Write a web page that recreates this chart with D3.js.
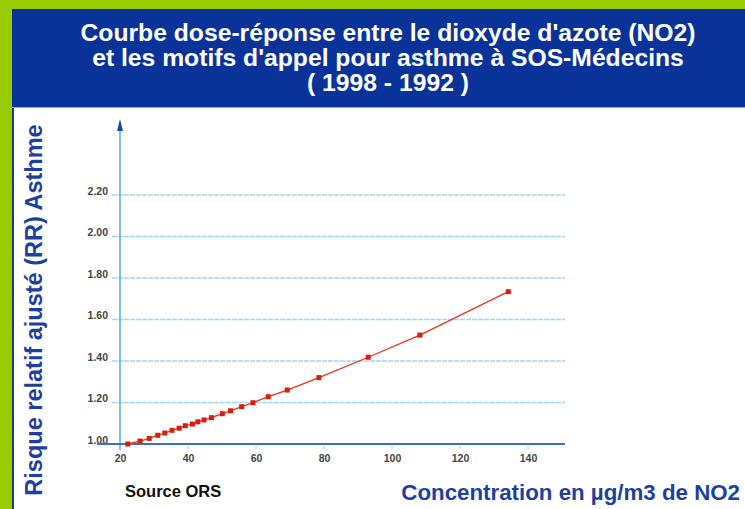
<!DOCTYPE html>
<html>
<head>
<meta charset="utf-8">
<script src="https://cdn.jsdelivr.net/npm/d3@7"></script>
<style>
  body { margin: 0; padding: 0; background: #fff; }
  svg { display: block; }
</style>
</head>
<body>
<div id="chart"></div>
<script>
// données
var titleLines = ["Courbe dose-réponse entre le dioxyde d'azote (NO2)",
                  "et les motifs d'appel pour asthme à SOS-Médecins",
                  "( 1998 - 1992 )"];
var no2 = [22.3, 25.9, 28.6, 31.1, 33.2, 35.3, 37.4, 39.2, 41.3, 42.9, 44.7,
           46.9, 50.1, 52.5, 55.8, 59.1, 63.6, 69.2, 78.5, 93.0, 108.2, 134.2];
var rr  = [1.000, 1.014, 1.027, 1.042, 1.053, 1.066, 1.076, 1.088, 1.096, 1.107, 1.116,
           1.127, 1.146, 1.160, 1.180, 1.199, 1.228, 1.260, 1.320, 1.418, 1.525, 1.734];
var xTicks = [20, 40, 60, 80, 100, 120, 140];
var yTicks = [1.00, 1.20, 1.40, 1.60, 1.80, 2.00, 2.20];

var W = 745, H = 509;
var font = "Liberation Sans, Arial, sans-serif";
var svg = d3.select("#chart").append("svg")
    .attr("width", W).attr("height", H);

// cadre vert + bandeau bleu
svg.append("rect").attr("width", W).attr("height", H).attr("fill", "#99cc00");
svg.append("rect").attr("x", 12).attr("y", 9).attr("width", W - 12).attr("height", 98)
    .attr("fill", "#0a3399");
svg.append("rect").attr("x", 12).attr("y", 107).attr("width", W - 12).attr("height", H - 107)
    .attr("fill", "#ffffff");
svg.append("line").attr("x1", 13).attr("x2", 13).attr("y1", 107).attr("y2", H)
    .attr("stroke", "#1a3a8c").attr("stroke-width", 2);
svg.append("line").attr("x1", 12).attr("x2", W).attr("y1", 107.5).attr("y2", 107.5)
    .attr("stroke", "#8fa8d8").attr("stroke-width", 1);

svg.selectAll("text.title").data(titleLines).enter().append("text")
    .attr("class", "title")
    .attr("x", 388).attr("y", function (d, i) { return 41 + i * 25; })
    .attr("text-anchor", "middle")
    .attr("fill", "#ffffff")
    .style("font-family", font)
    .style("font-weight", "bold").style("font-size", "24.7px")
    .text(function (d) { return d; });

// échelles
var x = d3.scaleLinear().domain([20, 140]).range([120, 528]);
var y = d3.scaleLinear().domain([1, 2.2]).range([444, 195]);

// grille
var grid = svg.append("g");
grid.selectAll("line").data(yTicks.slice(1)).enter().append("line")
    .attr("x1", 112).attr("x2", 565)
    .attr("y1", function (d) { return y(d); }).attr("y2", function (d) { return y(d); })
    .attr("stroke", "#a6d3f2").attr("stroke-width", 1.5)
    .attr("stroke-dasharray", "5,1");

// axe Y
var yAxis = svg.append("g").attr("transform", "translate(" + 110 + ",0)")
    .call(d3.axisLeft(y).tickValues(yTicks).tickSize(0).tickPadding(2)
        .tickFormat(d3.format(".2f")));
yAxis.select(".domain").remove();
yAxis.selectAll("text")
    .style("font-family", font).style("font-weight", "bold")
    .style("font-size", "10.5px").attr("fill", "#444")
    .attr("dy", "-0.05em");
svg.append("line").attr("x1", x(20)).attr("x2", x(20)).attr("y1", 122).attr("y2", 450)
    .attr("stroke", "#5aa8e0").attr("stroke-width", 1.5);
svg.append("path")
    .attr("d", d3.line()([[x(20) - 3, 131], [x(20), 119], [x(20) + 3, 131]]))
    .attr("fill", "#1a4aa0");

// axe X
var xAxis = svg.append("g").attr("transform", "translate(0," + 451 + ")")
    .call(d3.axisBottom(x).tickValues(xTicks).tickSize(0).tickPadding(4));
xAxis.select(".domain").remove();
xAxis.selectAll("text")
    .style("font-family", font).style("font-weight", "bold")
    .style("font-size", "10.5px").attr("fill", "#444");
svg.append("line").attr("x1", 97).attr("x2", 565).attr("y1", y(1)).attr("y2", y(1))
    .attr("stroke", "#3d6fc4").attr("stroke-width", 2);
svg.selectAll("line.xt").data(xTicks).enter().append("line")
    .attr("class", "xt")
    .attr("x1", function (d) { return x(d); }).attr("x2", function (d) { return x(d); })
    .attr("y1", y(1) + 2).attr("y2", y(1) + 5)
    .attr("stroke", "#9cc6ea").attr("stroke-width", 1);

// courbe
var pts = no2.map(function (d, i) { return [d, rr[i]]; });
svg.append("path").datum(pts)
    .attr("d", d3.line().x(function (d) { return x(d[0]); }).y(function (d) { return y(d[1]); }))
    .attr("fill", "none").attr("stroke", "#e8321e").attr("stroke-width", 1.3);
svg.selectAll("rect.pt").data(pts).enter().append("rect")
    .attr("class", "pt")
    .attr("x", function (d) { return x(d[0]) - 2.5; })
    .attr("y", function (d) { return y(d[1]) - 2.5; })
    .attr("width", 5).attr("height", 5)
    .attr("fill", "#dd1a10");

// libellés
svg.append("text")
    .attr("transform", "translate(42,310) rotate(-90)")
    .attr("text-anchor", "middle")
    .attr("fill", "#1d3f9e")
    .style("font-family", font)
    .style("font-weight", "bold").style("font-size", "23.5px")
    .text("Risque relatif ajusté (RR) Asthme");
svg.append("text")
    .attr("x", 125).attr("y", 497)
    .attr("fill", "#111")
    .style("font-family", font)
    .style("font-weight", "bold").style("font-size", "16.5px")
    .text("Source ORS");
svg.append("text")
    .attr("x", 740).attr("y", 500)
    .attr("text-anchor", "end")
    .attr("fill", "#1d3f9e")
    .style("font-family", font)
    .style("font-weight", "bold").style("font-size", "22.3px")
    .text("Concentration en µg/m3 de NO2");
</script>
</body>
</html>
